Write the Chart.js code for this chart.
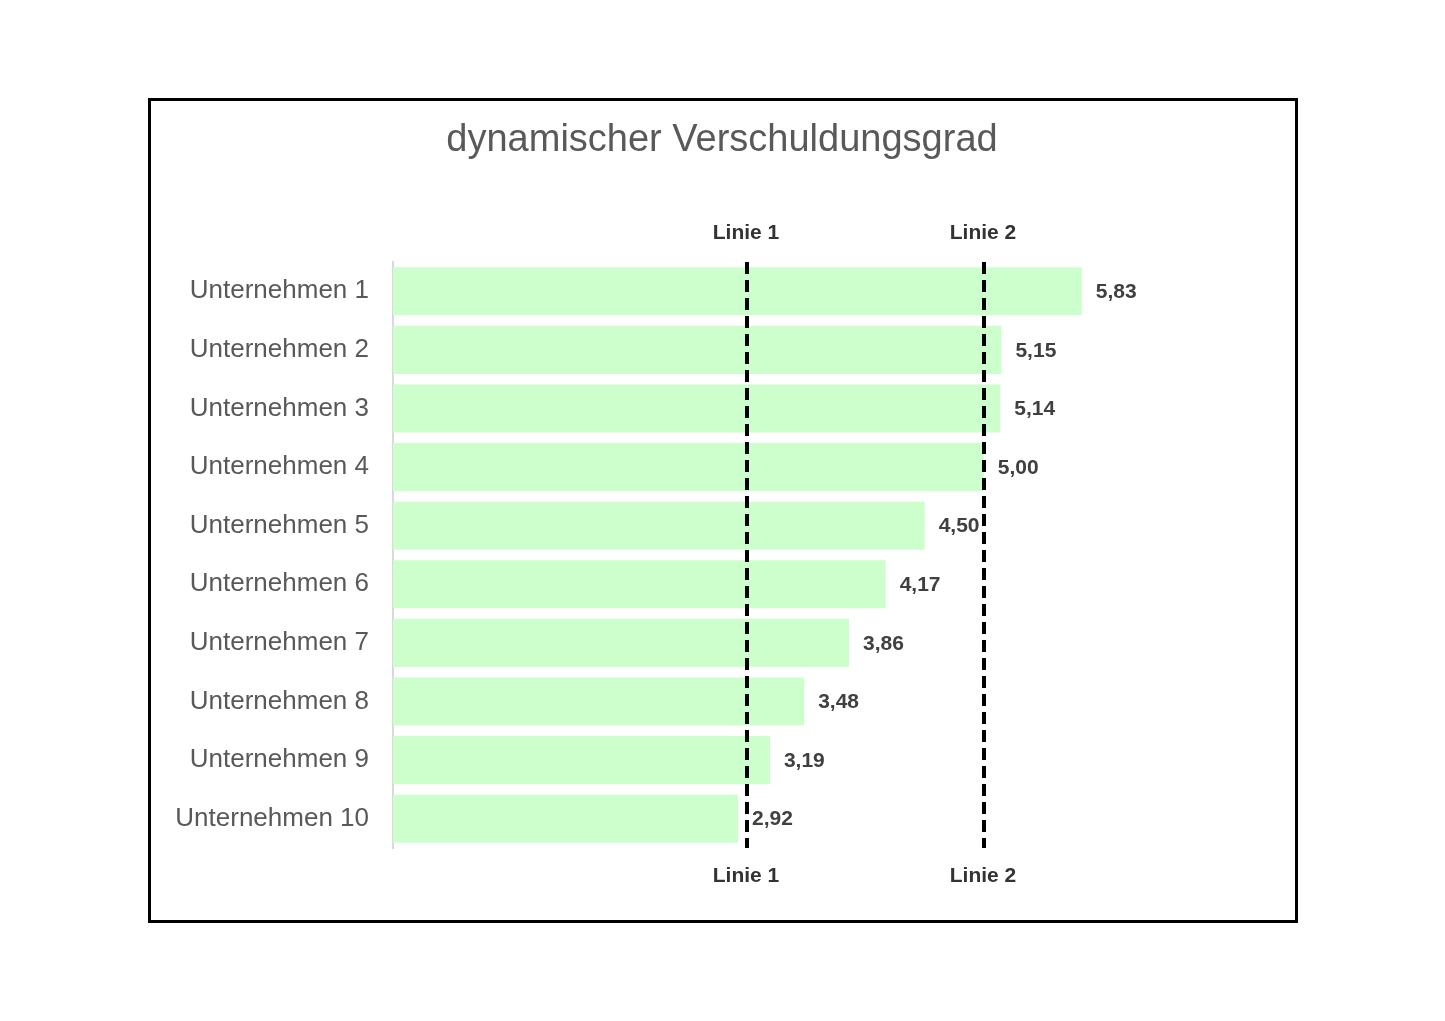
<!DOCTYPE html>
<html lang="de">
<head>
<meta charset="UTF-8">
<title>dynamischer Verschuldungsgrad</title>
<script src="https://cdn.jsdelivr.net/npm/chart.js"></script>
<style>
    html, body { margin: 0; padding: 0; background: #fff; }
    #wrap { position: relative; width: 1445px; height: 1021px; }
    #frame {
        position: absolute; left: 148px; top: 98px; width: 1150px; height: 825px;
        border: 3px solid #000; box-sizing: border-box; pointer-events: none;
    }
    canvas { position: absolute; left: 0; top: 0; }
</style>
</head>
<body>
<div id="wrap">
    <canvas id="myChart" width="1445" height="1021"></canvas>
    <div id="frame"></div>
</div>

<script>
    // Daten
    const titel = 'dynamischer Verschuldungsgrad';
    const firmen = ['Unternehmen 1', 'Unternehmen 2', 'Unternehmen 3', 'Unternehmen 4', 'Unternehmen 5',
                    'Unternehmen 6', 'Unternehmen 7', 'Unternehmen 8', 'Unternehmen 9', 'Unternehmen 10'];
    const werte = [5.83, 5.15, 5.14, 5.00, 4.50, 4.17, 3.86, 3.48, 3.19, 2.92];
    const linienNamen = ['Linie 1', 'Linie 2'];
    const linienWerte = [3, 5];

    const schrift = '"Liberation Sans", Arial, sans-serif';

    // Zahl mit Komma
    function fmt(v) {
        return v.toFixed(2).replace('.', ',');
    }

    // Titel mittig über dem Rahmen
    const titelPlugin = {
        id: 'titelPlugin',
        afterDraw(chart) {
            const ctx = chart.ctx;
            ctx.save();
            ctx.font = '38px ' + schrift;
            ctx.fillStyle = '#595959';
            ctx.textAlign = 'center';
            ctx.textBaseline = 'middle';
            ctx.fillText(titel, 722, 141);
            ctx.restore();
        }
    };

    // Werte neben den Balken
    const wertLabels = {
        id: 'wertLabels',
        afterDatasetsDraw(chart) {
            const ctx = chart.ctx;
            const meta = chart.getDatasetMeta(0);
            ctx.save();
            ctx.font = 'bold 21px ' + schrift;
            ctx.fillStyle = '#404040';
            ctx.textAlign = 'left';
            ctx.textBaseline = 'middle';
            meta.data.forEach((bar, i) => {
                ctx.fillText(fmt(werte[i]), bar.x + 14, bar.y + 1);
            });
            ctx.restore();
        }
    };

    // gestrichelte Linien
    const linien = {
        id: 'linien',
        afterDatasetsDraw(chart) {
            const ctx = chart.ctx;
            const area = chart.chartArea;
            const xs = chart.scales.x;
            ctx.save();
            linienWerte.forEach((v, i) => {
                const x = Math.round(xs.getPixelForValue(v));
                ctx.beginPath();
                ctx.setLineDash([12, 6]);
                ctx.lineWidth = 4;
                ctx.strokeStyle = '#000';
                ctx.moveTo(x, area.top);
                ctx.lineTo(x, area.bottom);
                ctx.stroke();

                ctx.setLineDash([]);
                ctx.font = 'bold 21px ' + schrift;
                ctx.fillStyle = '#333';
                ctx.textAlign = 'center';
                ctx.textBaseline = 'middle';
                ctx.fillText(linienNamen[i], x - 1, area.top - 29);
                ctx.fillText(linienNamen[i], x - 1, area.bottom + 28);
            });
            ctx.restore();
        }
    };

    const ctx = document.getElementById('myChart').getContext('2d');
    const myChart = new Chart(ctx, {
        type: 'bar',
        data: {
            labels: firmen,
            datasets: [{
                data: werte,
                backgroundColor: '#ccffcc',
                borderWidth: 0,
                categoryPercentage: 1,
                barPercentage: 0.82
            }]
        },
        options: {
            indexAxis: 'y',
            responsive: false,
            animation: false,
            layout: {
                padding: { top: 262, right: 225, bottom: 173, left: 100 }
            },
            plugins: {
                legend: { display: false },
                tooltip: { enabled: false },
                title: { display: false }
            },
            scales: {
                x: {
                    min: 0,
                    max: 7,
                    display: false
                },
                y: {
                    grid: { display: false },
                    border: { display: true, color: '#d9d9d9', width: 2 },
                    ticks: {
                        color: '#595959',
                        padding: 16,
                        font: { family: schrift, size: 26 }
                    },
                    afterFit(scale) { scale.width = 293; }
                }
            }
        },
        plugins: [titelPlugin, wertLabels, linien]
    });
</script>
</body>
</html>
